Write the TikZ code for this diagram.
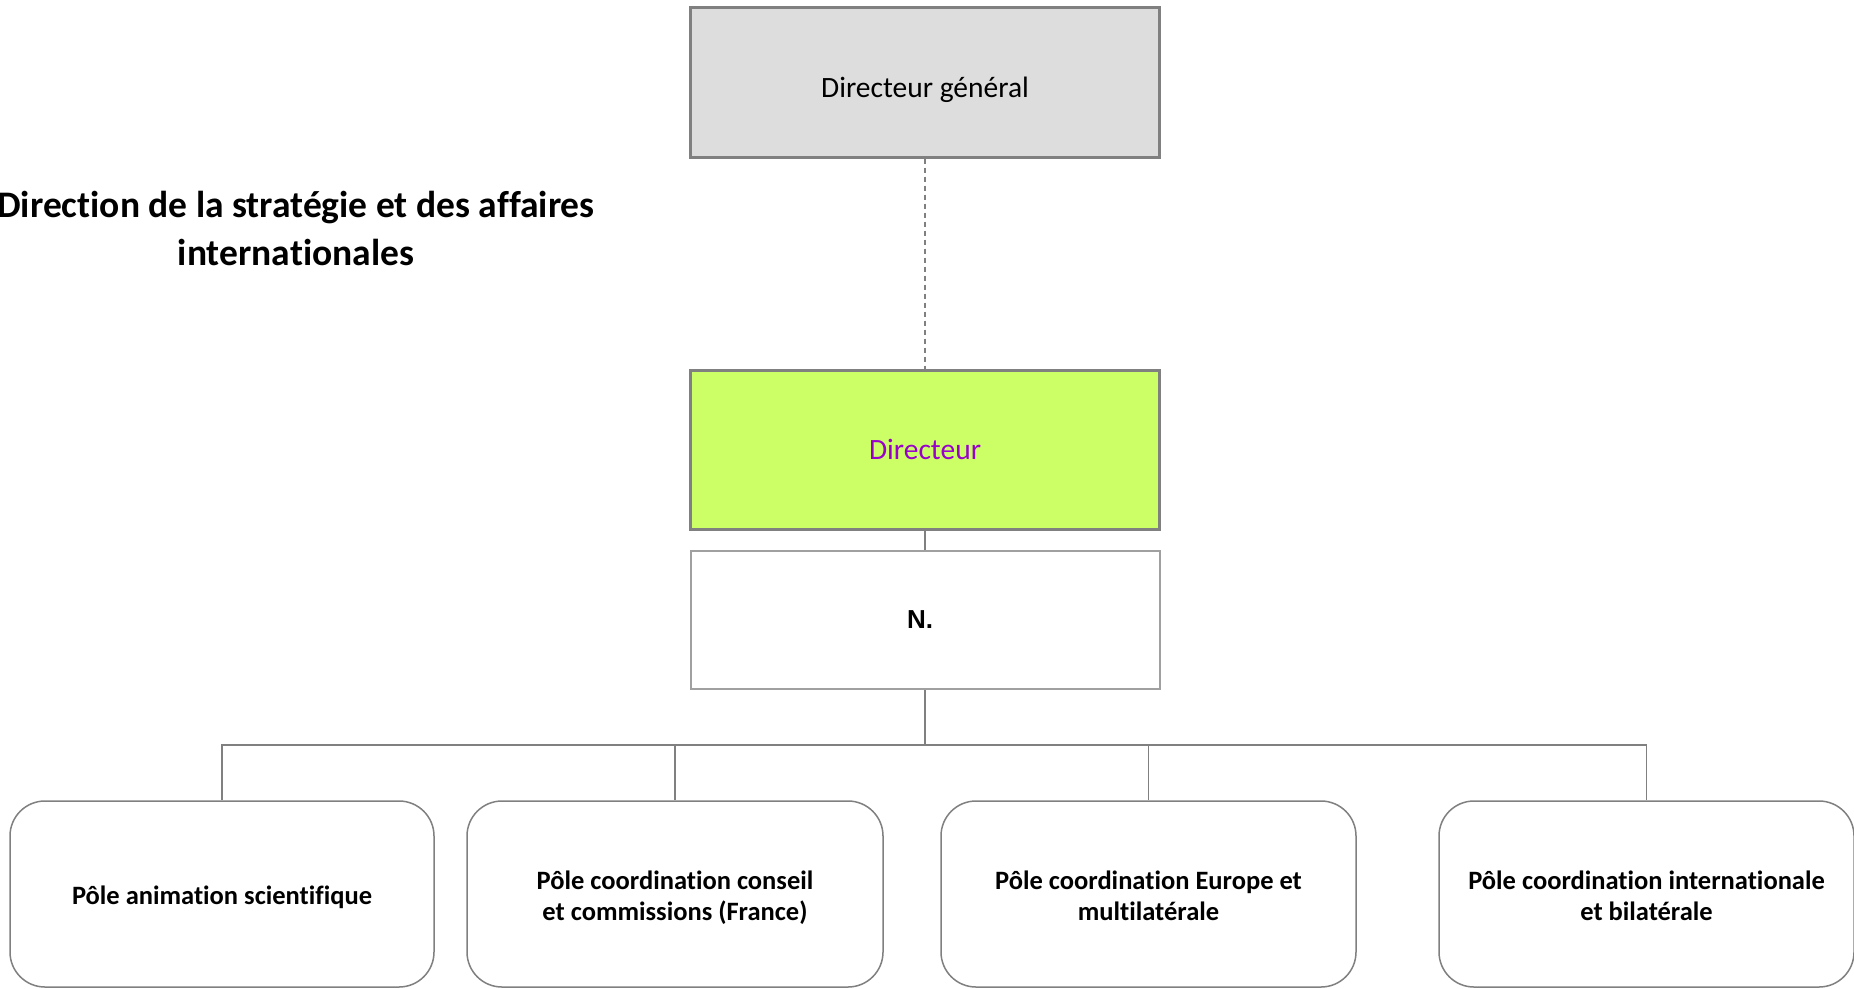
\documentclass[tikz,border=0pt]{standalone}
\usepackage{fontspec}
\setmainfont{Carlito}[RawFeature={-liga}]
\newfontfamily\arialfont{Liberation Sans}
\definecolor{boxgray}{HTML}{DDDDDD}
\definecolor{lineg}{HTML}{808080}
\definecolor{lightg}{HTML}{A0A0A0}
\definecolor{lime}{HTML}{CCFF66}
\definecolor{purp}{HTML}{9900CC}
\newcommand{\lowtxt}[2]{\raisebox{-#1}[\height][\depth]{\begin{tabular}{@{}c@{}}#2\end{tabular}}}
\begin{document}
\begin{tikzpicture}[x=1pt,y=-1pt,
  topbox/.style={draw=lineg, line width=3pt, minimum width=469pt, minimum height=150pt, inner sep=0pt, font=\fontsize{29.5}{35}\selectfont},
  nbox/.style={draw=lightg, line width=2pt, fill=white, minimum width=469pt, minimum height=138pt, inner sep=0pt},
  pole/.style={draw=lineg, line width=1.5pt, rounded corners=35pt, inner sep=0pt, align=center, font=\fontsize{26.5}{31}\selectfont\bfseries},
  conn/.style={draw=lineg, line width=1.5pt}]
\useasboundingbox (0,0) rectangle (1854,988);
\fill[white] (0,0) rectangle (1854,988);
\node[topbox, fill=boxgray] (dg) at (925,82) {\lowtxt{8pt}{Directeur général}};
\node[topbox, fill=lime, minimum height=159pt, text=purp] (dir) at (925,449.5) {Directeur};
\node[nbox] (n) at (925,620) {\arialfont\bfseries\fontsize{26}{30}\selectfont \lowtxt{2pt}{N.}\kern10pt};
\node[align=center, font=\fontsize{37.5}{48}\selectfont\bfseries] (title) at (296,228) {Direction de la stratégie et des affaires\\internationales};
\node[pole, minimum width=424pt, minimum height=186pt] (p1) at (222,894) {\lowtxt{4pt}{Pôle animation scientifique}};
\node[pole, minimum width=416pt, minimum height=186pt] (p2) at (675,894) {\lowtxt{5pt}{Pôle coordination conseil\\ et commissions (France)}};
\node[pole, minimum width=415pt, minimum height=186pt] (p3) at (1148.5,894) {\lowtxt{5pt}{Pôle coordination Europe et\\multilatérale}};
\node[pole, minimum width=415pt, minimum height=186pt] (p4) at (1646.5,894) {\lowtxt{5pt}{Pôle coordination internationale\\et bilatérale}};
\coordinate (bus) at (925,745);
\draw[conn, dashed, line width=1.2pt, dash pattern=on 5pt off 4pt] (dg.south) -- (dir.north);
\draw[conn] (dir.south) -- (n.north);
\draw[conn] (n.south) -- (bus);
\draw[conn] (p1.north) |- (bus) -| (p4.north);
\draw[conn] (p2.north) -- (p2.north |- bus);
\draw[conn] (p3.north) -- (p3.north |- bus);
\end{tikzpicture}
\end{document}
